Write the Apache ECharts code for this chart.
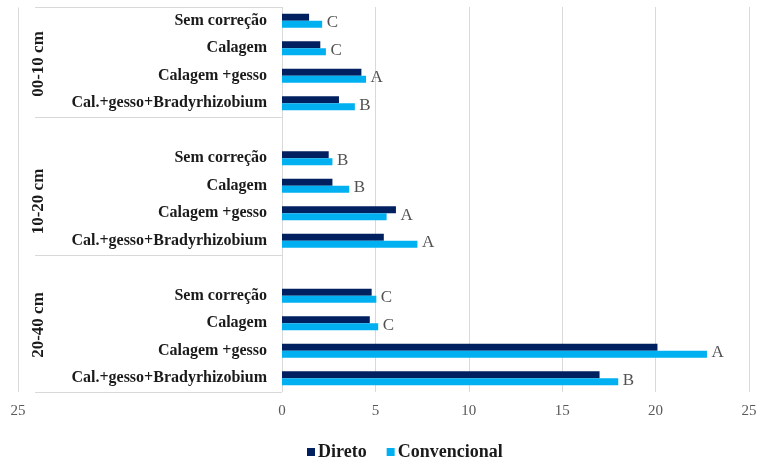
<!DOCTYPE html>
<html>
<head>
<meta charset="utf-8">
<script src="https://cdn.jsdelivr.net/npm/echarts@6/dist/echarts.min.js"></script>
<style>
  html, body { margin: 0; padding: 0; background: #fff; }
  #chart { width: 775px; height: 461px; }
</style>
</head>
<body>
<div id="chart"></div>
<script>
  // profundidades e tratamentos
  const depths = ['00-10 cm', '10-20 cm', '20-40 cm'];
  const treatments = ['Sem correção', 'Calagem', 'Calagem +gesso', 'Cal.+gesso+Bradyrhizobium'];
  // valores, um array por profundidade
  const direto = [
    [1.45, 2.05, 4.25, 3.05],
    [2.5, 2.7, 6.1, 5.45],
    [4.8, 4.7, 20.1, 17.0]
  ];
  const convencional = [
    [2.15, 2.35, 4.5, 3.9],
    [2.7, 3.6, 5.6, 7.25],
    [5.05, 5.15, 22.75, 18.0]
  ];
  const letters = [
    ['C', 'C', 'A', 'B'],
    ['B', 'B', 'A', 'A'],
    ['C', 'C', 'A', 'B']
  ];
  const xTicks = [0, 5, 10, 15, 20, 25];

  const serif = "'Liberation Serif', 'Times New Roman', serif";

  // monta eixo com linha em branco entre os grupos
  let categories = [], dirData = [], convData = [], letterData = [], groupIdx = [];
  depths.forEach(function (d, g) {
    if (g > 0) {
      categories.push('');
      dirData.push('-');
      convData.push('-');
    }
    let first = categories.length;
    treatments.forEach(function (t, i) {
      let idx = categories.length;
      categories.push(t);
      dirData.push(direto[g][i]);
      convData.push(convencional[g][i]);
      letterData.push({ value: [Math.max(direto[g][i], convencional[g][i]), idx], letter: letters[g][i] });
    });
    groupIdx.push([first, categories.length - 1]);
  });

  const gridLeft = 282;
  let myChart = echarts.init(document.getElementById('chart'));
  myChart.setOption({
    animation: false,
    grid: { left: gridLeft, right: 26, top: 7, bottom: 69 },
    xAxis: {
      type: 'value',
      min: xTicks[0],
      max: xTicks[xTicks.length - 1],
      interval: xTicks[1] - xTicks[0],
      axisLine: { show: false },
      axisTick: { show: false },
      splitLine: { show: true, lineStyle: { color: '#d9d9d9', width: 1 } },
      axisLabel: { color: '#595959', fontFamily: serif, fontSize: 15, margin: 12 }
    },
    yAxis: {
      type: 'category',
      inverse: true,
      data: categories,
      axisLine: { show: false },
      axisTick: { show: false },
      axisLabel: {
        color: '#1a1a1a', fontFamily: serif, fontSize: 16, fontWeight: 'bold', margin: 15,
        padding: [8, 0, 0, 0]
      }
    },
    legend: {
      left: 302,
      top: 438,
      icon: 'rect',
      itemWidth: 8,
      itemHeight: 8,
      itemGap: 20,
      data: ['Direto', 'Convencional'],
      textStyle: { color: '#1a1a1a', fontFamily: serif, fontSize: 18, fontWeight: 'bold', padding: [0, 0, 0, -2] }
    },
    series: [
      {
        name: 'Direto',
        type: 'bar',
        data: dirData,
        barWidth: 7,
        barGap: '0%',
        itemStyle: { color: '#002060' }
      },
      {
        name: 'Convencional',
        type: 'bar',
        data: convData,
        barWidth: 7,
        barGap: '0%',
        itemStyle: { color: '#00b0f0' }
      },
      {
        // letras de significância
        type: 'scatter',
        data: letterData,
        symbolSize: 1,
        itemStyle: { color: 'rgba(0,0,0,0)' },
        silent: true,
        label: {
          show: true,
          position: 'right',
          distance: 4,
          offset: [0, 2],
          color: '#262626',
          fontFamily: serif,
          fontSize: 17,
          formatter: function (p) { return p.data.letter; }
        }
      }
    ]
  });

  // tabela à esquerda (linhas e rótulos das profundidades)
  let c0 = myChart.convertToPixel({ yAxisIndex: 0 }, 0);
  let c1 = myChart.convertToPixel({ yAxisIndex: 0 }, 1);
  let band = c1 - c0;
  let topY = c0 - band / 2;
  let lineStyle = { stroke: '#d9d9d9', lineWidth: 1 };
  let graphics = [];
  [0, groupIdx[0][1] + 1, groupIdx[1][1] + 1, categories.length].forEach(function (k) {
    let y = Math.round(topY + k * band) + 0.5;
    graphics.push({ type: 'line', shape: { x1: 35, y1: y, x2: gridLeft, y2: y }, style: lineStyle });
  });
  graphics.push({
    type: 'line',
    shape: { x1: 18.5, y1: Math.round(topY) + 0.5, x2: 18.5, y2: Math.round(topY + categories.length * band) },
    style: lineStyle
  });
  depths.forEach(function (d, g) {
    let ya = myChart.convertToPixel({ yAxisIndex: 0 }, groupIdx[g][0]);
    let yb = myChart.convertToPixel({ yAxisIndex: 0 }, groupIdx[g][1]);
    graphics.push({
      type: 'text',
      x: 39,
      y: (ya + yb) / 2 + (g === 2 ? -12 : 2),
      rotation: Math.PI / 2,
      style: {
        text: d,
        fill: '#1a1a1a',
        font: 'bold 17px ' + serif,
        align: 'center',
        verticalAlign: 'middle'
      }
    });
  });
  // rótulo "25" solto no canto inferior esquerdo
  graphics.push({
    type: 'text',
    x: 18,
    y: myChart.convertToPixel({ yAxisIndex: 0 }, categories.length - 1) + band / 2 + 19,
    style: { text: String(xTicks[xTicks.length - 1]), fill: '#595959', font: '15px ' + serif, align: 'center', verticalAlign: 'middle' }
  });
  myChart.setOption({ graphic: graphics });
  window.addEventListener('resize', myChart.resize);
</script>
</body>
</html>
